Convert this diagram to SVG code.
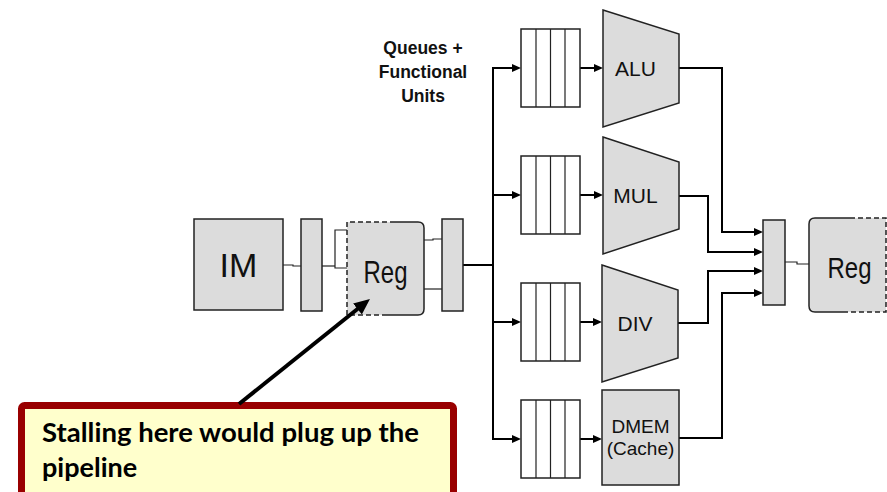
<svg xmlns="http://www.w3.org/2000/svg" width="887" height="492" viewBox="0 0 887 492">
<style>
.box{fill:#DCDCDC;stroke:#222;stroke-width:1.5}
.q{fill:#fff;stroke:#222;stroke-width:1.5}
.w{fill:none;stroke:#000;stroke-width:2}
.thin{fill:none;stroke:#222;stroke-width:1.2}
.lbl{font-family:"Liberation Sans",Arial,sans-serif;fill:#111;text-anchor:middle}
.dash{fill:none;stroke:#222;stroke-width:1.5;stroke-dasharray:5,3}
.sol{fill:none;stroke:#222;stroke-width:1.5}
</style>
<defs>
<marker id="ah" viewBox="0 0 9 8" refX="1" refY="4" markerWidth="9" markerHeight="8" markerUnits="userSpaceOnUse" orient="auto"><path d="M0,0 L9,4 L0,8 z" fill="#000"/></marker>
<marker id="big" viewBox="0 0 16 14" refX="4" refY="7" markerWidth="16" markerHeight="14" markerUnits="userSpaceOnUse" orient="auto"><path d="M0,0 L16,7 L0,14 z" fill="#000"/></marker>
</defs>

<g id="connectors">
<path class="thin" d="M283,265 L293,265 L293,266 L301,266"/>
<path class="thin" d="M322,266 L335,266"/>
<path class="thin" d="M348,230 L335,230 L335,268 L348,268"/>
<path class="thin" d="M424,240 L433,240 L433,239 L442,239"/>
<path class="thin" d="M424,289 L442,289"/>
<path class="w" d="M463,265 L493,265"/>
<path class="w" d="M493,68 L493,440"/>
<path class="w" d="M492,68 L513,68" marker-end="url(#ah)"/>
<path class="w" d="M492,195 L513,195" marker-end="url(#ah)"/>
<path class="w" d="M492,322 L513,322" marker-end="url(#ah)"/>
<path class="w" d="M492,439 L513,439" marker-end="url(#ah)"/>
<path class="w" d="M580,68 L595,68" marker-end="url(#ah)"/>
<path class="w" d="M580,195 L595,195" marker-end="url(#ah)"/>
<path class="w" d="M580,322 L594,322" marker-end="url(#ah)"/>
<path class="w" d="M580,439 L594,439" marker-end="url(#ah)"/>
<path class="w" d="M679,68 L722,68 L722,232 L755,232" marker-end="url(#ah)"/>
<path class="w" d="M679,196 L708,196 L708,252 L755,252" marker-end="url(#ah)"/>
<path class="w" d="M678,323 L708,323 L708,271 L755,271" marker-end="url(#ah)"/>
<path class="w" d="M679,438 L722,438 L722,293 L755,293" marker-end="url(#ah)"/>
<path class="thin" d="M785,262 L797,262 L797,264 L809,264"/>
</g>

<g id="IM">
<rect class="box" x="194" y="219" width="89" height="91"/>
<text class="lbl" x="238.5" y="277" font-size="34">IM</text>
</g>
<g id="pipe1"><rect class="box" x="301" y="219" width="21" height="92"/></g>
<g id="regfile1">
<path d="M347,222 L418,222 Q424,222 424,228 L424,309 Q424,315 418,315 L347,315 Z" fill="#DCDCDC"/>
<path class="dash" d="M395,222 L347,222 L347,315 L385,315"/>
<path class="sol" d="M395,222 L418,222 Q424,222 424,228 L424,309 Q424,315 418,315 L385,315"/>
<text class="lbl" font-size="24" transform="translate(385.5,283) scale(1,1.28)">Reg</text>
</g>
<g id="pipe2"><rect class="box" x="442" y="219" width="21" height="92"/></g>

<g id="title"><text class="lbl" font-size="17.5" font-weight="bold"><tspan x="423" y="54">Queues +</tspan><tspan x="423" y="78">Functional</tspan><tspan x="423" y="102">Units</tspan></text></g>

<g id="q1"><rect class="q" x="521" y="29" width="59" height="78"/><path class="thin" d="M536,29 V107 M550.5,29 V107 M565,29 V107"/></g>
<g id="q2"><rect class="q" x="521" y="156" width="59" height="78"/><path class="thin" d="M536,156 V234 M550.5,156 V234 M565,156 V234"/></g>
<g id="q3"><rect class="q" x="521" y="283" width="59" height="78"/><path class="thin" d="M536,283 V361 M550.5,283 V361 M565,283 V361"/></g>
<g id="q4"><rect class="q" x="521" y="400" width="59" height="78"/><path class="thin" d="M536,400 V478 M550.5,400 V478 M565,400 V478"/></g>

<g id="ALU"><path class="box" d="M603,10 L679,34 L679,103 L603,127 Z"/><text class="lbl" x="635.5" y="76" font-size="21">ALU</text></g>
<g id="MUL"><path class="box" d="M603,137 L679,162 L679,229 L603,254 Z"/><text class="lbl" x="635.5" y="203" font-size="21">MUL</text></g>
<g id="DIV"><path class="box" d="M602,265 L678,290 L678,358 L602,382 Z"/><text class="lbl" x="635" y="331" font-size="21">DIV</text></g>
<g id="DMEM"><rect class="box" x="602" y="390" width="77" height="95"/><text class="lbl" font-size="19"><tspan x="640.5" y="433">DMEM</tspan><tspan x="640.5" y="455">(Cache)</tspan></text></g>

<g id="merge"><rect class="box" x="763" y="220" width="22" height="85"/></g>
<g id="regfile2">
<path d="M815,218 L886,218 L886,312 L815,312 Q809,312 809,306 L809,224 Q809,218 815,218 Z" fill="#DCDCDC"/>
<path class="sol" d="M850,218 L815,218 Q809,218 809,224 L809,306 Q809,312 815,312 L845,312"/>
<path class="dash" d="M850,218 L886,218 L886,312 L845,312"/>
<text class="lbl" font-size="24" transform="translate(849.5,278) scale(1,1.25)">Reg</text>
</g>

<g id="callout">
<rect x="21.5" y="405.5" width="432" height="100" rx="3" fill="#FFFFCC" stroke="#990000" stroke-width="7"/>
<text font-family="Lato,'Open Sans',sans-serif" font-weight="bold" font-size="27" fill="#000"><tspan x="42" y="442" textLength="377" lengthAdjust="spacingAndGlyphs">Stalling here would plug up the</tspan><tspan x="42" y="477">pipeline</tspan></text>
<path d="M239,404 L360.6,306.5" stroke="#000" stroke-width="4" fill="none" marker-end="url(#big)"/>
</g>
</svg>
